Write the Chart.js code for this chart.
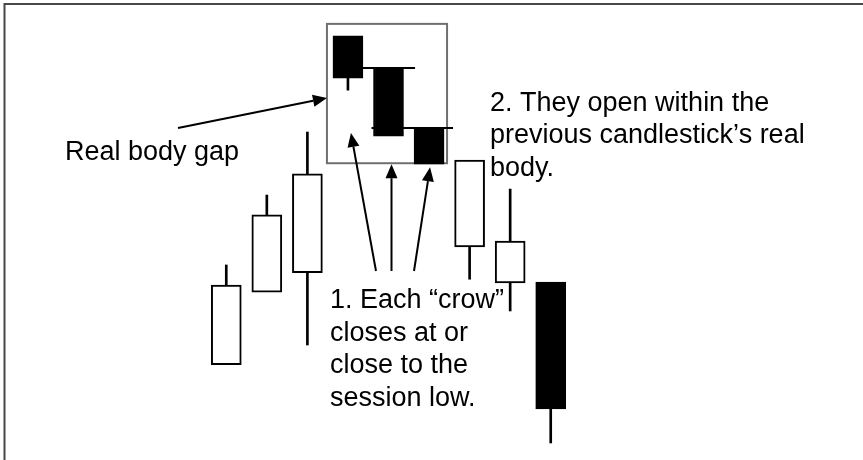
<!DOCTYPE html>
<html>
<head>
<meta charset="utf-8">
<script src="https://cdn.jsdelivr.net/npm/chart.js@4/dist/chart.umd.min.js"></script>
<style>
  html, body { margin: 0; padding: 0; background: #fff; }
  #wrap { width: 863px; height: 460px; }
</style>
</head>
<body>
<div id="wrap"><canvas id="crowChart" width="863" height="460"></canvas></div>
<script>
// Ba con quạ đen - dữ liệu nến (đơn vị giá tuỳ ý)
const sessions = ['1', '2', '3', '4', '5', '6', '7', '8', '9'];
const opens  = [20.7, 36.5, 40.7, 92.2, 85.0, 72.2, 46.3, 38.5, 38.7];
const closes = [38.0, 53.3, 62.2, 83.0, 70.4, 64.3, 65.2, 47.6, 11.1];
const highs  = [42.4, 57.6, 71.3, 92.2, 85.0, 72.2, 65.2, 58.9, 38.7];
const lows   = [20.7, 36.5, 25.0, 80.4, 70.4, 64.3, 39.3, 32.4, 3.7];

// các con quạ nằm ở nến 4..6
const crowIdx = [3, 4, 5];
const gapLevel = 78.7;   // mức giữa khoảng trống thân nến
const belowCrow1 = 71.1; // điểm mũi tên dưới con quạ đầu

const bodyColors = opens.map((o, i) => closes[i] >= o ? '#ffffff' : '#000000');

// bóng nến: bỏ qua khi không có bóng (tránh vạch thừa)
const upperWick = highs.map((h, i) => {
    const top = Math.max(opens[i], closes[i]);
    return h > top ? [top, h] : null;
});
const lowerWick = lows.map((l, i) => {
    const bot = Math.min(opens[i], closes[i]);
    return l < bot ? [l, bot] : null;
});

const font = '27px "Liberation Sans", Arial, sans-serif';

function arrow(ctx, x1, y1, x2, y2) {
    const len = 14, half = 6;
    const a = Math.atan2(y2 - y1, x2 - x1);
    const bx = x2 - len * Math.cos(a), by = y2 - len * Math.sin(a);
    ctx.beginPath();
    ctx.moveTo(x1, y1);
    ctx.lineTo(bx, by);
    ctx.stroke();
    ctx.beginPath();
    ctx.moveTo(x2, y2);
    ctx.lineTo(bx + half * Math.sin(a), by - half * Math.cos(a));
    ctx.lineTo(bx - half * Math.sin(a), by + half * Math.cos(a));
    ctx.closePath();
    ctx.fill();
}

const notes = {
    id: 'notes',
    beforeDatasetsDraw(chart) {
        const ctx = chart.ctx;
        const x = chart.scales.x, y = chart.scales.y;
        ctx.save();
        // khung ngoài (chỉ trên và trái)
        ctx.strokeStyle = '#474747';
        ctx.lineWidth = 2;
        ctx.beginPath();
        ctx.moveTo(4.5, 460);
        ctx.lineTo(4.5, 4);
        ctx.lineTo(863, 4);
        ctx.stroke();
        // hộp xám quanh ba con quạ
        const left = x.getPixelForValue(crowIdx[0]) - 21;
        const right = x.getPixelForValue(crowIdx[2]) + 18;
        const top = y.getPixelForValue(highs[crowIdx[0]]) - 12;
        const bottom = y.getPixelForValue(closes[crowIdx[2]]) - 1;
        ctx.strokeStyle = '#707070';
        ctx.lineWidth = 2;
        ctx.strokeRect(left, top, right - left, bottom - top);
        ctx.restore();
    },
    afterDatasetsDraw(chart) {
        const ctx = chart.ctx;
        const x = chart.scales.x, y = chart.scales.y;
        const c1 = x.getPixelForValue(crowIdx[0]);
        const c2 = x.getPixelForValue(crowIdx[1]);
        const c3 = x.getPixelForValue(crowIdx[2]);
        ctx.save();
        ctx.strokeStyle = '#000';
        ctx.fillStyle = '#000';
        ctx.lineWidth = 2;

        // mức mở cửa nằm trong thân nến trước
        let ly = y.getPixelForValue(opens[crowIdx[1]]) - 1;
        ctx.beginPath();
        ctx.moveTo(c1 + 15, ly); ctx.lineTo(c3 - 14, ly); ctx.stroke();
        ly = y.getPixelForValue(opens[crowIdx[2]]);
        ctx.beginPath();
        ctx.moveTo(c2 - 17, ly); ctx.lineTo(c3 + 24, ly); ctx.stroke();

        // mũi tên
        const boxLeft = c1 - 21;
        arrow(ctx, 178, 128, boxLeft, y.getPixelForValue(gapLevel));
        arrow(ctx, 376, 271, c1 + 3, y.getPixelForValue(belowCrow1));
        arrow(ctx, c2 + 3, 271, c2 + 3, y.getPixelForValue(closes[crowIdx[2]]));
        arrow(ctx, 414, 271, c3 + 1, y.getPixelForValue(closes[crowIdx[2]]) + 3);

        // chữ chú thích
        ctx.font = font;
        ctx.textBaseline = 'alphabetic';
        ctx.fillText('Real body gap', 65, 159.5);
        ['2. They open within the', 'previous candlestick\u2019s real', 'body.']
            .forEach((t, i) => ctx.fillText(t, 490, 110.5 + i * 32.7));
        ['1. Each \u201Ccrow\u201D', 'closes at or', 'close to the', 'session low.']
            .forEach((t, i) => ctx.fillText(t, 330, 308.3 + i * 32.5));
        ctx.restore();
    }
};

const ctx = document.getElementById('crowChart').getContext('2d');
new Chart(ctx, {
    type: 'bar',
    data: {
        labels: sessions,
        datasets: [{
            label: 'Thân nến',
            data: opens.map((o, i) => [o, closes[i]]),
            backgroundColor: bodyColors,
            borderColor: '#000',
            borderWidth: 2,
            borderSkipped: false,
            barThickness: 30,
            grouped: false
        }, {
            label: 'Bóng trên',
            data: upperWick,
            backgroundColor: '#000',
            borderWidth: 0,
            barThickness: 2,
            grouped: false
        }, {
            label: 'Bóng dưới',
            data: lowerWick,
            backgroundColor: '#000',
            borderWidth: 0,
            barThickness: 2,
            grouped: false
        }]
    },
    options: {
        responsive: false,
        animation: false,
        layout: { padding: { left: 206, right: 292, top: 0, bottom: 0 } },
        plugins: {
            legend: { display: false },
            tooltip: { enabled: false }
        },
        scales: {
            x: { display: false },
            y: { display: false, min: 0, max: 100 }
        }
    },
    plugins: [notes]
});
</script>
</body>
</html>
